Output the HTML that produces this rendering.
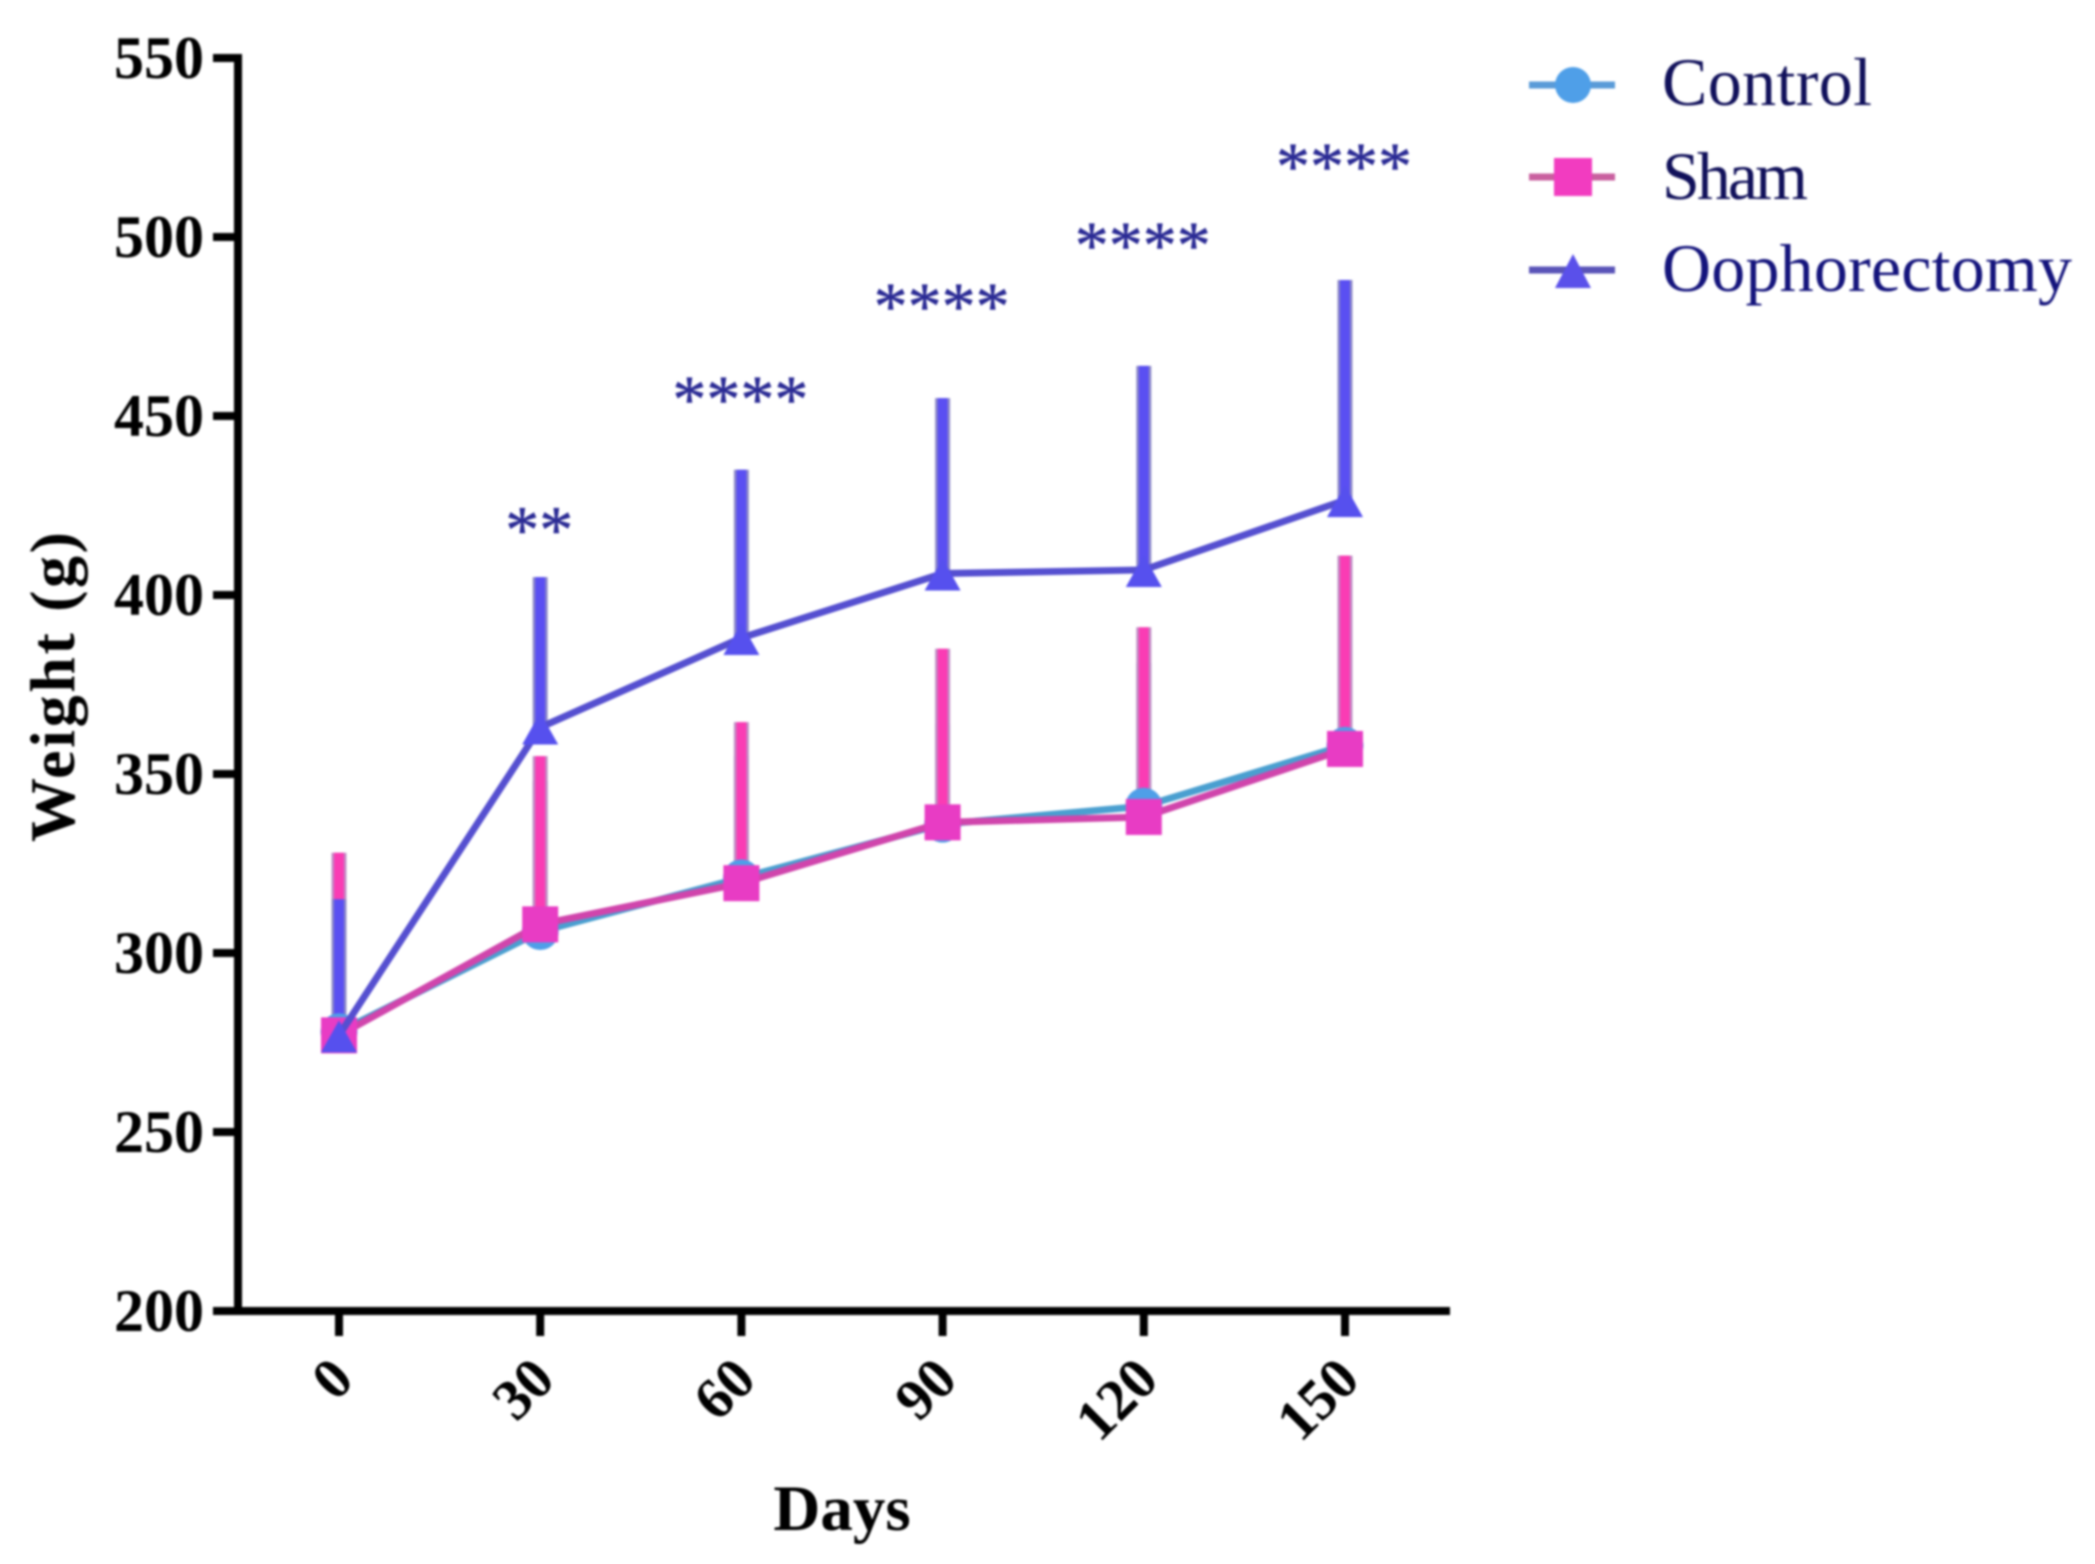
<!DOCTYPE html>
<html lang="en">
<head>
<meta charset="utf-8">
<title>Weight over days</title>
<style>
html,body{margin:0;padding:0;background:#fff;}
#chart{display:block;width:2095px;height:1564px;filter:blur(1px);}
text{font-family:"Liberation Serif",serif;}
</style>
</head>
<body>
<svg id="chart" xmlns="http://www.w3.org/2000/svg" width="2095" height="1564" viewBox="0 0 2095 1564">
  <g id="grid-axes"></g>
  <g id="marks"></g>
  <text transform="translate(74,687) rotate(-90)" text-anchor="middle" font-weight="700" font-size="64" textLength="310" fill="#000">Weight (g)</text>
  <text x="842" y="1530" text-anchor="middle" font-weight="700" font-size="65" fill="#000">Days</text>
  <g>
    <g>
      <line x1="1529" y1="85" x2="1615" y2="85" stroke="#5a9bd8" stroke-width="7"/>
      <circle cx="1573" cy="85" r="18" fill="#4f9fe8"/>
      <text x="1662" y="105" font-size="68" textLength="210" fill="#10105a">Control</text>
    </g>
    <g>
      <line x1="1529" y1="177" x2="1615" y2="177" stroke="#c9609f" stroke-width="7"/>
      <rect x="1554" y="158" width="38" height="38" fill="#f23cc0"/>
      <text x="1662" y="199" font-size="68" textLength="146" fill="#10105a">Sham</text>
    </g>
    <g>
      <line x1="1529" y1="270" x2="1615" y2="270" stroke="#5a54b8" stroke-width="7"/>
      <polygon points="1573,254 1591,288 1555,288" fill="#5a50ea"/>
      <text x="1662" y="291" font-size="68" textLength="410" fill="#14147c">Oophorectomy</text>
    </g>
  </g>
</svg>
<script>
const days = [0, 30, 60, 90, 120, 150];
const yTicks = [200, 250, 300, 350, 400, 450, 500, 550];
const controlMeans = [278, 306, 321, 336, 341, 358];
const shamMeans = [277, 308, 319.5, 336.5, 338, 357];
const oophMeans = [277, 363, 388, 406, 407, 426.5];
const controlUpper = [310, 348, 355, 364, 381, 392];
const shamUpper = [328, 355, 364.5, 385, 391, 411];
const oophUpper = [315, 405, 435, 455, 464, 488];
const starLabels = ['', '**', '****', '****', '****', '****'];
const starLevels = [0, 420.5, 457, 483, 500, 522];

const NS = 'http://www.w3.org/2000/svg';
function xScale(d) { return 339 + d * (1345 - 339) / 150; }
function yScale(v) { return 1311 - (v - 200) * 3.58; }
function make(tag, attrs, parent) {
  const el = document.createElementNS(NS, tag);
  for (const k in attrs) el.setAttribute(k, attrs[k]);
  parent.appendChild(el);
  return el;
}

const axes = document.getElementById('grid-axes');
const marks = document.getElementById('marks');

const yAxisLine = make('line', {x1: 238, y1: yScale(550) - 4, x2: 238, y2: yScale(200) + 4, stroke: '#000', 'stroke-width': 8}, axes);


const xAxisLine = make('line', {x1: 234, y1: 1311, x2: 1450, y2: 1311, stroke: '#000', 'stroke-width': 8}, axes);



yTicks.forEach(function (v) {
  const tick = make('line', {x1: 213, y1: yScale(v), x2: 238, y2: yScale(v), stroke: '#000', 'stroke-width': 8}, axes);
  
  
  const label = make('text', {x: 204, y: yScale(v) + 20, 'text-anchor': 'end', 'font-weight': 700, 'font-size': 60, fill: '#000'}, axes);
  label.textContent = String(v);
  
  
});

days.forEach(function (d) {
  const x = xScale(d);
  const tick = make('line', {x1: x, y1: 1311, x2: x, y2: 1336, stroke: '#000', 'stroke-width': 8}, axes);
  
  
  const lx = x + 17, ly = 1382;
  const label = make('text', {x: lx, y: ly, 'text-anchor': 'end', 'font-weight': 700, 'font-size': 58, fill: '#000', transform: 'rotate(-45 ' + lx + ' ' + ly + ')'}, axes);
  label.textContent = String(d);
  
  
});

function drawErrors(name, means, upper, edge, core) {
  days.forEach(function (d, i) {
    const x = xScale(d);
    const outer = make('line', {x1: x, y1: yScale(means[i]), x2: x, y2: yScale(upper[i]), stroke: edge, 'stroke-width': 15}, marks);
    
    
    const inner = make('line', {x1: x, y1: yScale(means[i]), x2: x, y2: yScale(upper[i]), stroke: core, 'stroke-width': 10}, marks);
    
    
  });
}
function pointsOf(means) {
  return days.map(function (d, i) { return xScale(d) + ',' + yScale(means[i]); }).join(' ');
}

drawErrors('control', controlMeans, controlUpper, '#8f96c8', '#6f8fe0');
drawErrors('sham', shamMeans, shamUpper, '#c08cc4', '#fa3cb4');
drawErrors('oophorectomy', oophMeans, oophUpper, '#8c88c8', '#5a4ff2');

const controlLine = make('polyline', {points: pointsOf(controlMeans), fill: 'none', stroke: '#4a9fd0', 'stroke-width': 7}, marks);


controlMeans.forEach(function (v, i) {
  const c = make('circle', {cx: xScale(days[i]), cy: yScale(v), r: 18.5, fill: '#4f9fe8'}, marks);
  
  
});

const shamLine = make('polyline', {points: pointsOf(shamMeans), fill: 'none', stroke: '#d045ac', 'stroke-width': 7}, marks);


shamMeans.forEach(function (v, i) {
  const r = make('rect', {x: xScale(days[i]) - 18, y: yScale(v) - 18, width: 36, height: 36, fill: '#e83cc4'}, marks);
  
  
});

const oophLine = make('polyline', {points: pointsOf(oophMeans), fill: 'none', stroke: '#554fd0', 'stroke-width': 7}, marks);


oophMeans.forEach(function (v, i) {
  const x = xScale(days[i]), y = yScale(v);
  const t = make('polygon', {points: x + ',' + (y - 15) + ' ' + (x + 18) + ',' + (y + 17) + ' ' + (x - 18) + ',' + (y + 17), fill: '#5650ee'}, marks);
  
  
});

starLabels.forEach(function (s, i) {
  if (!s) return;
  const label = make('text', {x: xScale(days[i]) - 1, y: yScale(starLevels[i]) + 31, 'text-anchor': 'middle', 'font-size': 68, fill: '#2a2a94', stroke: '#2a2a94', 'stroke-width': 0.5}, marks);
  label.textContent = s;
  
  
});
</script>
</body>
</html>
